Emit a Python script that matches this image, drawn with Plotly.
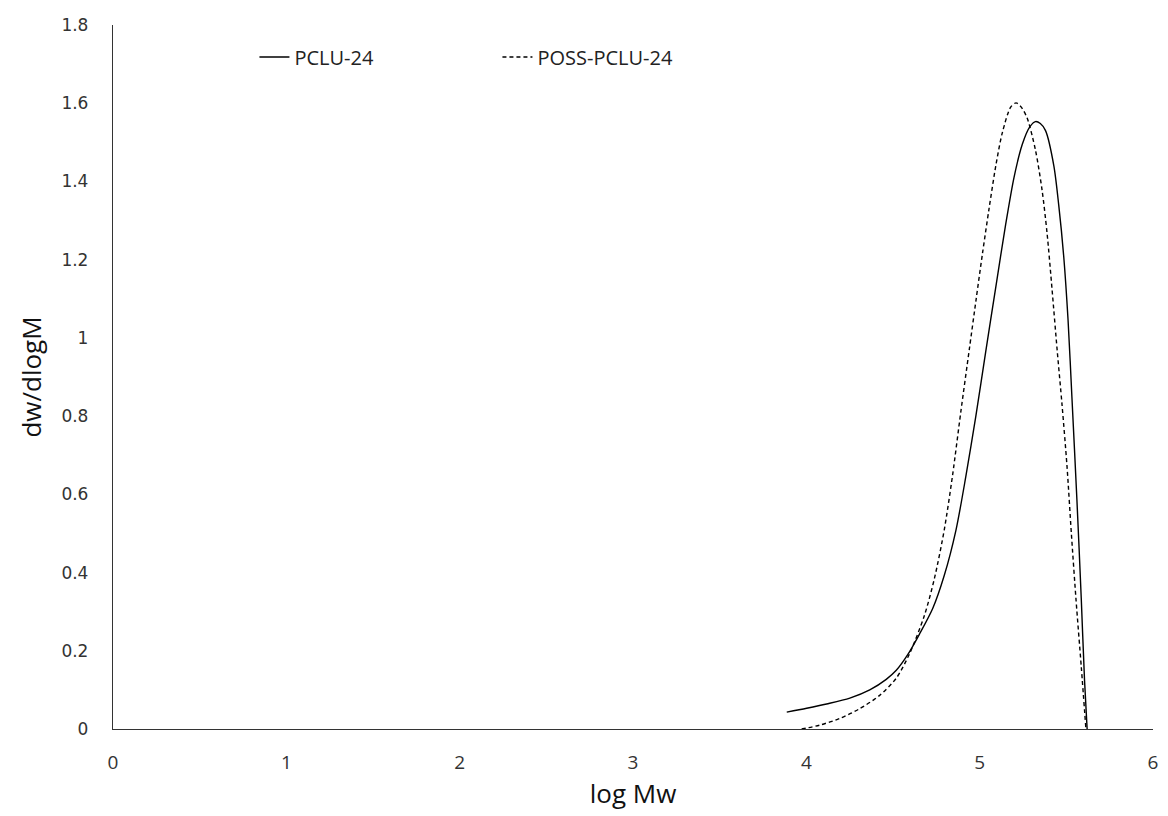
import plotly.graph_objects as go

# PCLU-24 (solid)
pclu_x = [3.887, 4.002, 4.117, 4.251, 4.366, 4.461, 4.519, 4.585, 4.652, 4.729,
          4.796, 4.863, 4.920, 4.978, 5.035, 5.093, 5.150, 5.198, 5.246, 5.290,
          5.322, 5.350, 5.380, 5.428, 5.456, 5.485, 5.510, 5.532, 5.561, 5.586,
          5.605, 5.620]
pclu_y = [0.043, 0.053, 0.064, 0.079, 0.100, 0.127, 0.150, 0.190, 0.242, 0.308,
          0.393, 0.508, 0.645, 0.800, 0.965, 1.130, 1.290, 1.410, 1.495, 1.540,
          1.553, 1.548, 1.530, 1.440, 1.340, 1.208, 1.045, 0.850, 0.586, 0.335,
          0.125, 0.0]

# POSS-PCLU-24 (dashed)
poss_x = [3.973, 4.078, 4.193, 4.308, 4.423, 4.519, 4.595, 4.681, 4.739, 4.796,
          4.844, 4.891, 4.940, 4.980, 5.016, 5.054, 5.093, 5.131, 5.179, 5.210,
          5.240, 5.274, 5.322, 5.360, 5.389, 5.418, 5.447, 5.475, 5.504, 5.529,
          5.556, 5.586, 5.613]
poss_y = [0.0, 0.010, 0.027, 0.052, 0.086, 0.130, 0.192, 0.290, 0.385, 0.510,
          0.650, 0.810, 0.970, 1.100, 1.215, 1.330, 1.440, 1.525, 1.590, 1.601,
          1.590, 1.562, 1.480, 1.378, 1.267, 1.122, 0.969, 0.830, 0.671, 0.500,
          0.330, 0.160, 0.0]

x_ticks = [0, 1, 2, 3, 4, 5, 6]
y_ticks = [0, 0.2, 0.4, 0.6, 0.8, 1.0, 1.2, 1.4, 1.6, 1.8]
y_tick_labels = ["0", "0.2", "0.4", "0.6", "0.8", "1", "1.2", "1.4", "1.6", "1.8"]

fig = go.Figure()
fig.add_trace(go.Scatter(x=pclu_x, y=pclu_y, mode="lines", name="PCLU-24",
                         line=dict(color="black", width=1.4, shape="spline", smoothing=0.8)))
fig.add_trace(go.Scatter(x=poss_x, y=poss_y, mode="lines", name="POSS-PCLU-24",
                         line=dict(color="black", width=1.4, dash="4px,3px", shape="spline", smoothing=0.8)))

title_font = dict(family="Open Sans", size=26, color="#111")
fig.update_layout(
    width=1168, height=816,
    margin=dict(l=113, r=10, t=25, b=87),
    paper_bgcolor="white", plot_bgcolor="white",
    showlegend=True,
    legend=dict(orientation="h", x=0.136, y=0.9545, xanchor="left", yanchor="middle",
                font=dict(family="Open Sans", size=20, color="#222"),
                entrywidth=198, bgcolor="rgba(0,0,0,0)"),
    xaxis=dict(range=[0, 6], tickvals=x_ticks, showgrid=False, zeroline=False,
               showline=True, linecolor="#333", linewidth=1.3, ticks="",
               tickfont=dict(family="Open Sans", size=19, color="#333"), ticklabelstandoff=16,
               title=dict(text="log Mw", font=title_font, standoff=8)),
    yaxis=dict(range=[0, 1.8], tickvals=y_ticks, ticktext=y_tick_labels, showgrid=False,
               zeroline=False, showline=True, linecolor="#333", linewidth=1.3, ticks="",
               tickfont=dict(family="DejaVu Sans", size=17, color="#333"), ticklabelstandoff=20,
               title=dict(text="dw/dlogM", font=title_font, standoff=12)),
)

fig.write_html("out.html")
